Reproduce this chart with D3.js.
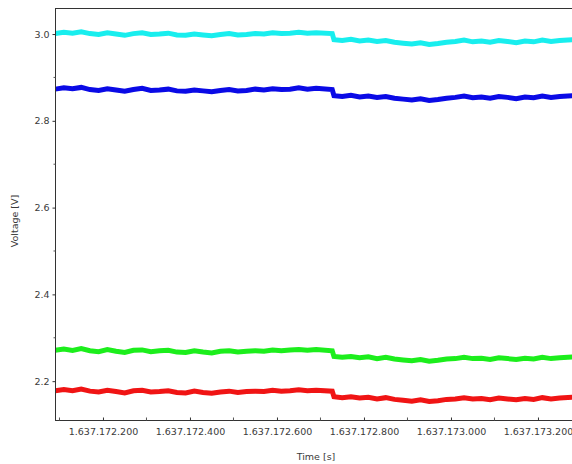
<!DOCTYPE html>
<html>
<head>
<meta charset="utf-8">
<script src="https://cdn.jsdelivr.net/npm/d3@7"></script>
<style>
  html, body { margin: 0; padding: 0; background: #fff; }
  svg { display: block; }
  text { font-family: "DejaVu Sans", sans-serif; fill: #3a3a3a; }
</style>
</head>
<body>
<svg id="chart" width="572" height="464"></svg>
<script>
// ---- data ----
const times = [
  1637172.09, 1637172.11, 1637172.13, 1637172.15, 1637172.17, 1637172.19, 1637172.21, 1637172.23,
  1637172.25, 1637172.27, 1637172.29, 1637172.31, 1637172.33, 1637172.35, 1637172.37, 1637172.39,
  1637172.41, 1637172.43, 1637172.45, 1637172.47, 1637172.49, 1637172.51, 1637172.53, 1637172.55,
  1637172.57, 1637172.59, 1637172.61, 1637172.63, 1637172.65, 1637172.67, 1637172.69, 1637172.727,
  1637172.731, 1637172.75, 1637172.77, 1637172.79, 1637172.81, 1637172.83, 1637172.85, 1637172.87,
  1637172.89, 1637172.91, 1637172.93, 1637172.95, 1637172.97, 1637172.99, 1637173.01, 1637173.03,
  1637173.05, 1637173.07, 1637173.09, 1637173.11, 1637173.13, 1637173.15, 1637173.17, 1637173.19,
  1637173.21, 1637173.23, 1637173.25, 1637173.28
];
const cyanValues = [
  3.001, 3.004, 3.002, 3.005, 3.001, 2.999, 3.003, 3.000, 2.997, 3.001, 3.003, 2.999, 3.000, 3.002, 2.998, 2.997,
  3.000, 2.998, 2.996, 2.999, 3.001, 2.998, 2.999, 3.001, 3.000, 3.003, 3.001, 3.002, 3.004, 3.002, 3.003, 3.001,
  2.987, 2.985, 2.988, 2.984, 2.986, 2.983, 2.985, 2.981, 2.979, 2.977, 2.980, 2.976, 2.978, 2.981, 2.983, 2.986,
  2.982, 2.984, 2.981, 2.985, 2.983, 2.980, 2.984, 2.982, 2.986, 2.983, 2.985, 2.987
];
const blueValues = [
  2.873, 2.876, 2.874, 2.877, 2.872, 2.870, 2.874, 2.871, 2.868, 2.872, 2.875, 2.870, 2.871, 2.873, 2.869, 2.868,
  2.871, 2.869, 2.867, 2.870, 2.872, 2.869, 2.870, 2.873, 2.871, 2.874, 2.872, 2.873, 2.876, 2.873, 2.875, 2.872,
  2.858, 2.856, 2.859, 2.855, 2.857, 2.854, 2.856, 2.852, 2.850, 2.848, 2.851, 2.847, 2.849, 2.852, 2.854, 2.857,
  2.853, 2.855, 2.852, 2.856, 2.854, 2.851, 2.855, 2.853, 2.857, 2.854, 2.856, 2.858
];
const greenValues = [
  2.271, 2.274, 2.271, 2.275, 2.270, 2.268, 2.273, 2.269, 2.266, 2.271, 2.272, 2.268, 2.270, 2.271, 2.267, 2.266,
  2.270, 2.267, 2.265, 2.269, 2.270, 2.267, 2.269, 2.270, 2.269, 2.272, 2.270, 2.272, 2.273, 2.271, 2.273, 2.270,
  2.257, 2.255, 2.257, 2.254, 2.256, 2.252, 2.255, 2.251, 2.249, 2.247, 2.250, 2.246, 2.248, 2.251, 2.252, 2.255,
  2.252, 2.253, 2.250, 2.254, 2.252, 2.250, 2.253, 2.251, 2.255, 2.252, 2.254, 2.256
];
const redValues = [
  2.178, 2.181, 2.178, 2.182, 2.177, 2.175, 2.179, 2.176, 2.173, 2.178, 2.179, 2.175, 2.176, 2.178, 2.174, 2.173,
  2.177, 2.174, 2.172, 2.175, 2.177, 2.174, 2.176, 2.177, 2.176, 2.179, 2.177, 2.178, 2.180, 2.178, 2.179, 2.177,
  2.164, 2.162, 2.164, 2.161, 2.163, 2.159, 2.162, 2.158, 2.156, 2.154, 2.157, 2.153, 2.155, 2.158, 2.159, 2.162,
  2.159, 2.160, 2.157, 2.161, 2.159, 2.157, 2.160, 2.158, 2.162, 2.159, 2.161, 2.163
];
const seriesNames = ["cyan", "blue", "green", "red"];
const seriesColors = ["#18eeee", "#0a0ae6", "#1cee1c", "#f01414"];
const xTickValues = [1637172.2, 1637172.4, 1637172.6, 1637172.8, 1637173.0, 1637173.2];
const xTickLabels = ["1.637.172.200", "1.637.172.400", "1.637.172.600", "1.637.172.800", "1.637.173.000", "1.637.173.200"];
const xMinorTicks = [1637172.1, 1637172.3, 1637172.5, 1637172.7, 1637172.9, 1637173.1];
const yTickValues = [2.2, 2.4, 2.6, 2.8, 3.0];
const yTickLabels = ["2.2", "2.4", "2.6", "2.8", "3.0"];
const yMinorTicks = [2.3, 2.5, 2.7, 2.9];
const xDomain = [1637172.0897, 1637173.2782];
const yDomain = [2.1105, 3.0600];

// ---- layout ----
const svg = d3.select("#chart");
const mLeft = 55, mTop = 8, mRight = 572, mBottom = 420;

const x = d3.scaleLinear().domain(xDomain).range([mLeft, mRight]);
const y = d3.scaleLinear().domain(yDomain).range([mBottom, mTop]);

const allValues = [cyanValues, blueValues, greenValues, redValues];

const plot = svg.append("g");
plot.append("clipPath").attr("id", "clip")
  .append("rect").attr("x", mLeft).attr("y", mTop).attr("width", mRight - mLeft).attr("height", mBottom - mTop);

const line = d3.line()
  .x((d, i) => x(times[i]))
  .y(d => y(d));

const lines = plot.append("g").attr("clip-path", "url(#clip)");
allValues.forEach((vals, k) => {
  lines.append("path")
    .datum(vals)
    .attr("class", "series " + seriesNames[k])
    .attr("fill", "none")
    .attr("stroke", seriesColors[k])
    .attr("stroke-width", 5)
    .attr("d", line);
});

// frame line on top
svg.append("line").attr("x1", mLeft).attr("x2", mRight).attr("y1", mTop + 0.5).attr("y2", mTop + 0.5)
  .attr("stroke", "#333").attr("stroke-width", 1);

// y axis
const yAxis = d3.axisLeft(y)
  .tickValues(yTickValues)
  .tickFormat((d, i) => yTickLabels[i])
  .tickSize(3)
  .tickPadding(3);
const gy = svg.append("g").attr("transform", `translate(${mLeft + 0.5},0)`).call(yAxis);
gy.select(".domain").attr("stroke", "#333").attr("d", `M0,${mTop}V${mBottom}`);
gy.selectAll(".tick line").attr("stroke", "#333");
gy.selectAll(".tick text").attr("font-size", 9.5).attr("fill", "#3a3a3a");
gy.selectAll(".minor").data(yMinorTicks).enter().append("line")
  .attr("class", "minor")
  .attr("x1", -2).attr("x2", 0)
  .attr("y1", d => y(d)).attr("y2", d => y(d))
  .attr("stroke", "#555");

// x axis
const xAxis = d3.axisBottom(x)
  .tickValues(xTickValues)
  .tickFormat((d, i) => xTickLabels[i])
  .tickSize(-3)
  .tickPadding(8);
const gx = svg.append("g").attr("transform", `translate(0,${mBottom + 0.5})`).call(xAxis);
gx.select(".domain").attr("stroke", "#333").attr("d", `M${mLeft},0H${mRight}`);
gx.selectAll(".tick line").attr("stroke", "#333");
gx.selectAll(".tick text").attr("font-size", 9.5).attr("fill", "#3a3a3a");
gx.selectAll(".minor").data(xMinorTicks).enter().append("line")
  .attr("class", "minor")
  .attr("x1", d => x(d)).attr("x2", d => x(d))
  .attr("y1", -3).attr("y2", 0)
  .attr("stroke", "#555");

// titles
svg.append("text")
  .attr("x", 316).attr("y", 460)
  .attr("text-anchor", "middle")
  .attr("font-size", 9.5)
  .text("Time [s]");
svg.append("text")
  .attr("transform", "translate(18,221) rotate(-90)")
  .attr("text-anchor", "middle")
  .attr("font-size", 9.5)
  .text("Voltage [V]");
</script>
</body>
</html>
